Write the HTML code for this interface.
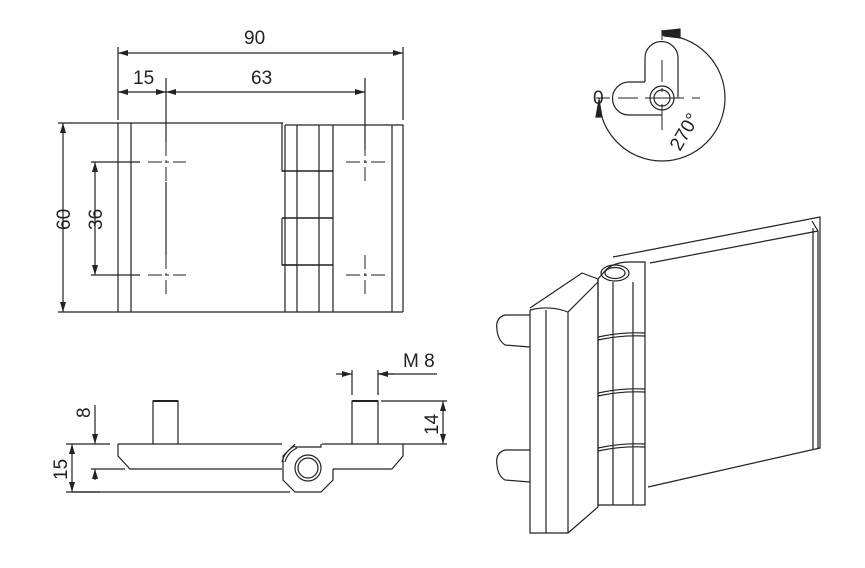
<!DOCTYPE html>
<html><head><style>body{margin:0;background:#fff}svg{display:block}text{font-family:"Liberation Sans",sans-serif;fill:#222}</style></head>
<body>
<svg width="865" height="568" viewBox="0 0 865 568" xmlns="http://www.w3.org/2000/svg">
<defs>
<marker id="a" viewBox="0 0 10 6" refX="10" refY="3" markerWidth="12" markerHeight="6" markerUnits="userSpaceOnUse" orient="auto-start-reverse"><path d="M0,0L10,3L0,6z" fill="#222"/></marker>
</defs>
<g stroke="#222" stroke-width="1.2" fill="none">
<!-- top view -->
<path d="M118,123H283M118,312H403M118,123V312M131,123V312M285,125H403V312M282,123V171H285M285,125V312M297,125V312M319,125V312M333,125V312M392,125V312M403,125V312"/>
<path d="M282,218V265H297"/>
<path d="M282,171h51M282,218h51M282,265h51" stroke-width="1.6"/>
<g stroke-width="1" stroke-dasharray="14,4,3,4">
<path d="M148,162H186M166,142V182M148,275H186M166,255V295M346,162H385M365,142V182M346,275H385M365,255V295"/>
</g>
<path d="M118,47V120M403,47V120M166,78V142M365,78V150M166,182V255"/>
<path d="M118,53H403" marker-start="url(#a)" marker-end="url(#a)"/>
<path d="M118,92H166" marker-start="url(#a)" marker-end="url(#a)"/>
<path d="M166,92H365" marker-start="url(#a)" marker-end="url(#a)"/>
<path d="M58,123H118M58,312H118M91,162H140M91,275H140"/>
<path d="M63,123V312" marker-start="url(#a)" marker-end="url(#a)"/>
<path d="M95,162V275" marker-start="url(#a)" marker-end="url(#a)"/>
<!-- side view -->
<path d="M118,444H282M118,444V456L130,469H282"/>
<path d="M153,444V401H178V444M352,444V401H378V444"/>
<path d="M153,401H178M352,401H378" stroke-width="2"/>
<path d="M322,444H403V456L392,469M333,469H392"/>
<path d="M295,447H321V444"/>
<path d="M295,444L283,456V480L295,492H321L333,480V469"/>
<path d="M282,462A24,24 0 0 1 295,446M285,462A22,22 0 0 1 297,448"/>
<circle cx="308" cy="468" r="13"/><circle cx="308" cy="468" r="10"/>
<path d="M72,492H290"/>
<path d="M352,370V395M378,370V395M378,374H437M381,401H447M403,444H447M66,444H110M66,492H100M91,469H125"/>
<path d="M336,374H352" marker-end="url(#a)"/>
<path d="M394,374H378" marker-end="url(#a)"/>
<path d="M443,401V444" marker-start="url(#a)" marker-end="url(#a)"/>
<path d="M72,444V492" marker-start="url(#a)" marker-end="url(#a)"/>
<path d="M95,405V444" marker-end="url(#a)"/>
<path d="M95,480V469" marker-end="url(#a)"/>
<!-- angle icon -->
<path d="M662,30V40M662,60V82M662,88V92M662,104V130M596,98H610M618,98H638M645,98H684M692,98H700" stroke-width="1"/>
<path d="M645,82V58A16.5,16.5 0 0 1 678,58V98"/>
<path d="M645,82H629A16.5,16.5 0 0 0 629,115H662"/>
<circle cx="662" cy="98" r="12"/><circle cx="662" cy="98" r="8"/>
<path d="M662,35A63,63 0 1 1 599,98"/>
<path d="M662,31L680,29L680,38L664,36Z" fill="#222"/>
<path d="M599,100L596,117L602,117Z" fill="#222"/>
<!-- iso -->
<path d="M613,257L820,217L820,448L648,487"/>
<path d="M650,263L818,231M812,221L818,231V448M813,228V450"/>
<path d="M598,279L604,272Q612,262 630,262L645,262V505H598Z"/>
<ellipse cx="615" cy="273" rx="14" ry="8"/><ellipse cx="615" cy="273" rx="10" ry="5.5"/>
<path d="M613,282V505M633,282V505M598,337Q620,332 645,333M598,340Q620,335 645,336M598,393Q620,388 645,389M598,396Q620,391 645,392M598,448Q620,443 645,444M598,451Q620,446 645,447"/>
<path d="M530,310V533H568L598,507V279L582,273L530,308M546,310V533M568,312V533"/>
<path d="M530,310Q550,305 568,312L598,282"/>
<path d="M530,315H505Q495,318 497,330Q498,340 505,345L530,347M530,450H505Q495,453 497,465Q498,476 505,480L530,482"/>
</g>
<g font-size="19">
<text x="244" y="44">90</text>
<text x="133" y="84">15</text>
<text x="251" y="84">63</text>
<text x="403" y="367">M 8</text>
<text transform="translate(70,230) rotate(-90)">60</text>
<text transform="translate(102,230) rotate(-90)">36</text>
<text transform="translate(438,435) rotate(-90)">14</text>
<text transform="translate(90,418) rotate(-90)">8</text>
<text transform="translate(67,480) rotate(-90)">15</text>
<text x="593" y="104">0</text>
<text transform="translate(680,152) rotate(-60)">270°</text>
</g>
</svg>
</body></html>
